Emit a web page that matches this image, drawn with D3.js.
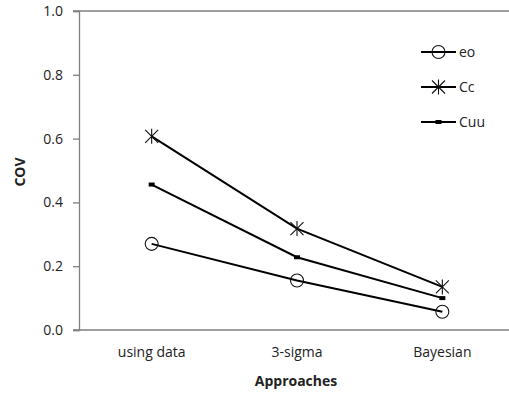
<!DOCTYPE html>
<html>
<head>
<meta charset="utf-8">
<script src="https://cdn.jsdelivr.net/npm/d3@7"></script>
<style>
  body { margin: 0; background: #fff; }
  svg text { font-family: "Open Sans", "Noto Sans", sans-serif; fill: #222; }
</style>
</head>
<body>
<svg id="chart" width="509" height="394"></svg>
<script>
// Coefficient of variation by estimation approach
const categories = ["using data", "3-sigma", "Bayesian"];
const eo  = [0.27, 0.155, 0.057];
const Cc  = [0.607, 0.318, 0.135];
const Cuu = [0.456, 0.228, 0.100];
const yTicks = [0.0, 0.2, 0.4, 0.6, 0.8, 1.0];

const series = [
  { name: "eo",  values: eo,  marker: "circle" },
  { name: "Cc",  values: Cc,  marker: "star" },
  { name: "Cuu", values: Cuu, marker: "dash" }
];

const svg = d3.select("#chart");
const plotLeft = 79, plotRight = 515, plotTop = 11, plotBottom = 330;

const x = d3.scaleBand().domain(categories).range([plotLeft, plotRight]);
const y = d3.scaleLinear().domain([0, 1]).range([plotBottom, plotTop]);
const cx = c => x(c) + x.bandwidth() / 2;

const axisColor = "#7f7f7f";

// top border line
svg.append("line")
  .attr("x1", plotLeft - 6).attr("x2", 509)
  .attr("y1", y(1)).attr("y2", y(1))
  .attr("stroke", axisColor).attr("stroke-width", 1.3);

// y axis
const yAxis = svg.append("g")
  .attr("transform", `translate(${plotLeft},0)`)
  .call(d3.axisLeft(y).tickValues(yTicks).tickFormat(d3.format(".1f")).tickSize(6).tickPadding(10));
yAxis.select(".domain").attr("stroke", axisColor).attr("stroke-width", 1.3);
yAxis.selectAll(".tick line").attr("stroke", axisColor).attr("stroke-width", 1.3);
yAxis.selectAll(".tick text").attr("font-size", 14).attr("fill", "#333")
  .style("font-family", '"Open Sans", sans-serif');

// x axis
const xAxis = svg.append("g")
  .attr("transform", `translate(0,${plotBottom})`)
  .call(d3.axisBottom(x).tickSize(0).tickPadding(17));
xAxis.select(".domain").attr("d", `M${plotLeft - 6},0H509`).attr("stroke", axisColor).attr("stroke-width", 1.3);
xAxis.selectAll(".tick text").attr("font-size", 14).attr("fill", "#333")
  .style("font-family", '"Open Sans", sans-serif');

// axis titles
svg.append("text")
  .attr("x", 296).attr("y", 386)
  .attr("text-anchor", "middle")
  .attr("font-size", 14).attr("font-weight", "bold")
  .text("Approaches");

svg.append("text")
  .attr("transform", `translate(25,172) rotate(-90)`)
  .attr("text-anchor", "middle")
  .attr("font-size", 14).attr("font-weight", "bold")
  .text("COV");

// markers
function drawMarker(g, type, px, py) {
  if (type === "circle") {
    g.append("circle").attr("cx", px).attr("cy", py).attr("r", 6.5)
      .attr("fill", "none").attr("stroke", "#111").attr("stroke-width", 1.1);
  } else if (type === "star") {
    const s = 6.5;
    const p = `M${px - s},${py - s}L${px + s},${py + s}M${px - s},${py + s}L${px + s},${py - s}M${px},${py - s - 1}L${px},${py + s + 1}`;
    g.append("path").attr("d", p).attr("stroke", "#111").attr("stroke-width", 1.1).attr("fill", "none");
  } else {
    g.append("rect").attr("x", px - 3).attr("y", py - 2).attr("width", 6).attr("height", 4)
      .attr("fill", "#000");
  }
}

const line = d3.line().x((d, i) => cx(categories[i])).y(d => y(d));

series.forEach(s => {
  const g = svg.append("g");
  g.append("path").datum(s.values).attr("d", line)
    .attr("fill", "none").attr("stroke", "#000").attr("stroke-width", 2);
  s.values.forEach((v, i) => drawMarker(g, s.marker, cx(categories[i]), y(v)));
});

// legend
const legend = svg.append("g");
series.forEach((s, i) => {
  const ly = 52 + i * 35;
  legend.append("line").attr("x1", 421).attr("x2", 456).attr("y1", ly).attr("y2", ly)
    .attr("stroke", "#000").attr("stroke-width", 2);
  drawMarker(legend, s.marker, 438.5, ly);
  legend.append("text").attr("x", 459).attr("y", ly).attr("dy", "0.35em")
    .attr("font-size", 14).attr("fill", "#222").text(s.name);
});
</script>
</body>
</html>
